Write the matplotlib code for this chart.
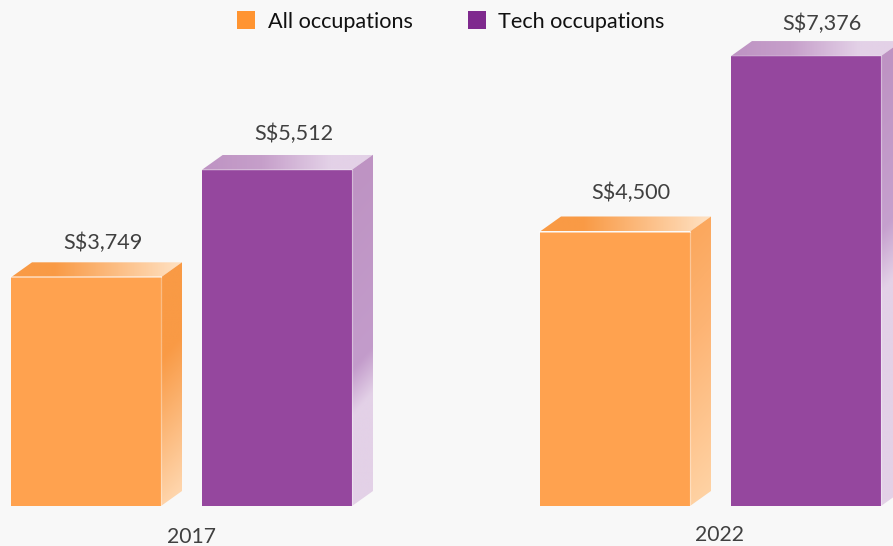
import matplotlib.pyplot as plt
from matplotlib.colors import LinearSegmentedColormap
from matplotlib.patches import Polygon, Rectangle
import numpy as np

years = ['2017', '2022']
all_occupations = [3749, 4500]
tech_occupations = [5512, 7376]
series_names = ['All occupations', 'Tech occupations']

W, H = 893, 546
PX = 0.061  # pixels per S$
BASE = 506
DX, DY = 21, 15 / PX
BAR_W = 150

plt.rcParams['font.family'] = ['Lato', 'DejaVu Sans']

fig = plt.figure(figsize=(W / 100, H / 100), dpi=100, facecolor='#f8f8f8')
ax = fig.add_axes([0, 0, 1, 1])
ax.set_xlim(0, W)
ax.set_ylim(-(H - BASE) / PX, BASE / PX)
ax.axis('off')


def shade(poly, box, t, stops):
    cmap = LinearSegmentedColormap.from_list('c', stops)
    im = ax.imshow(t, extent=box, origin='lower', cmap=cmap, vmin=0, vmax=1,
                   aspect='auto', interpolation='bilinear', zorder=2)
    patch = Polygon(poly, closed=True, transform=ax.transData, fc='none', ec='none')
    ax.add_patch(patch)
    im.set_clip_path(patch)


def bar3d(x, value, front, top_stops, side_stops, edge_alpha):
    x1 = x + BAR_W
    ax.bar(x, value, width=BAR_W, align='edge', color=front, zorder=3)

    # top face, left to right
    t = np.linspace(0, 1, 200)[None, :]
    shade([(x, value), (x1, value), (x1 + DX, value + DY), (x + DX, value + DY)],
          (x, x1 + DX, value, value + DY), t, top_stops)
    ax.plot([x, x1], [value, value], color='white', alpha=edge_alpha, lw=1.4, zorder=4)

    # side face, slanted gradient going down
    gx, gy = np.meshgrid(np.linspace(0, 1, 60), np.linspace(0, 1, 300))
    h_px = (value + DY) * PX
    t = 1 - (gy * h_px + (1 - gx) * DX * 1.1) / h_px
    shade([(x1, 0), (x1 + DX, DY), (x1 + DX, value + DY), (x1, value)],
          (x1, x1 + DX, 0, value + DY), np.clip(t, 0, 1), side_stops)
    ax.plot([x1, x1], [0, value], color='white', alpha=0.35, lw=0.9, zorder=4)


orange_top = [(0, '#f99a45'), (0.25, '#f99a45'), (1, '#ffe2c4')]
purple_top = [(0, '#be93c3'), (0.35, '#c69fca'), (0.75, '#e3d1e7'), (1, '#e3d1e7')]
orange_sides = [[(0, '#f99a45'), (0.3, '#f99a45'), (1, '#ffdcb8')],
                [(0, '#fba85e'), (0.35, '#fdb474'), (1, '#ffd5a8')]]
purple_sides = [[(0, '#be93c3'), (0.55, '#c39ccb'), (0.68, '#e3d1e7'), (1, '#e3d1e7')],
                [(0, '#be93c3'), (0.36, '#c6a0ce'), (0.49, '#e3d1e7'), (1, '#e3d1e7')]]

orange_x = [11, 540]
purple_x = [202, 731]
orange_label_pos = [(102.5, 242.5), (631, 192.5)]
purple_label_pos = [(293.5, 133.5), (822, 23.5)]
year_pos = [(191.5, 537), (719, 535)]

for i, year in enumerate(years):
    bar3d(orange_x[i], all_occupations[i], '#ffa24f', orange_top, orange_sides[i], 0.5)
    bar3d(purple_x[i], tech_occupations[i], '#95479e', purple_top, purple_sides[i], 0.15)
    for pos, v in [(orange_label_pos[i], all_occupations[i]),
                   (purple_label_pos[i], tech_occupations[i])]:
        ax.text(pos[0], (BASE - pos[1]) / PX, f'S${v:,}', ha='center', va='center',
                fontsize=15.6, color='#404040', zorder=5)
    ax.text(year_pos[i][0], (BASE - year_pos[i][1]) / PX, year, ha='center', va='center',
            fontsize=15.2, color='#404040')

# legend drawn by hand to sit where the original does
legend_x = [237, 468]
legend_colors = ['#ff9431', '#7f2a8e']
for lx, name, c in zip(legend_x, series_names, legend_colors):
    ax.add_patch(Rectangle((lx, (BASE - 29) / PX), 18, 18 / PX, fc=c, ec='none', zorder=5))
    ax.text(lx + 31 - (lx > 400), (BASE - 22) / PX, name, ha='left', va='center',
            fontsize=15.6, color='#111111')

ax.set_xlim(0, W)
ax.set_ylim(-(H - BASE) / PX, BASE / PX)
fig.savefig('out.png', dpi=100, facecolor=fig.get_facecolor())
